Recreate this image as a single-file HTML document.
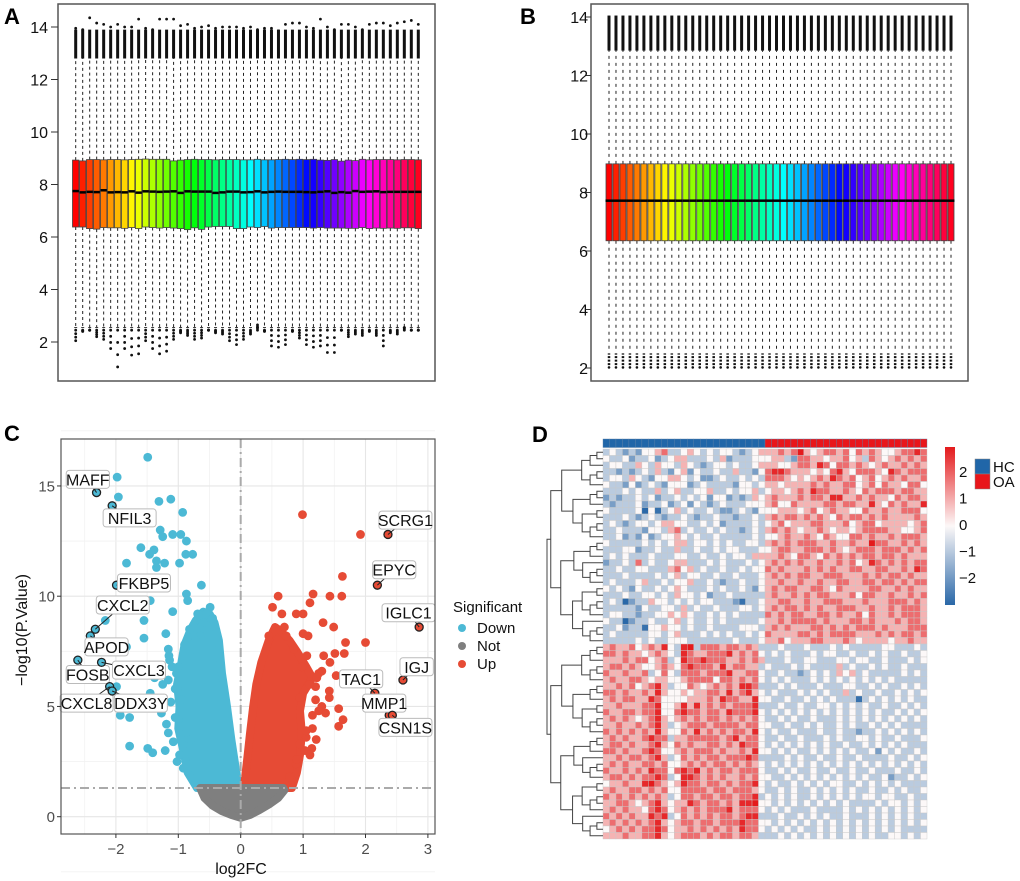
<!DOCTYPE html>
<html><head><meta charset="utf-8"><title>Figure</title>
<style>
html,body{margin:0;padding:0;background:#fff;}
svg{display:block;font-family:"Liberation Sans",Arial,sans-serif;}
</style></head>
<body>
<svg id="fig" width="1020" height="881" viewBox="0 0 1020 881" xmlns="http://www.w3.org/2000/svg">
<text x="4" y="24" font-size="22" font-weight="bold">A</text>
<text x="520" y="24" font-size="22" font-weight="bold">B</text>
<text x="4" y="441" font-size="22" font-weight="bold">C</text>
<text x="532" y="442" font-size="22" font-weight="bold">D</text>
</svg>
<script>
// ---------- DATA ----------
const nSamples = 50;
const aMedian = [7.75,7.7,7.72,7.71,7.78,7.7,7.71,7.7,7.74,7.69,7.74,7.73,7.72,7.73,7.74,7.68,7.74,7.73,7.73,7.73,7.68,7.7,7.73,7.73,7.7,7.71,7.74,7.7,7.72,7.73,7.72,7.72,7.72,7.71,7.7,7.72,7.74,7.68,7.71,7.69,7.75,7.72,7.73,7.74,7.71,7.72,7.72,7.72,7.72,7.72];
const aQ1 = [6.38,6.38,6.32,6.3,6.36,6.35,6.35,6.33,6.36,6.32,6.38,6.36,6.34,6.36,6.34,6.32,6.28,6.35,6.29,6.38,6.4,6.4,6.4,6.32,6.32,6.38,6.36,6.4,6.34,6.36,6.36,6.36,6.36,6.36,6.34,6.36,6.34,6.34,6.34,6.33,6.33,6.36,6.32,6.34,6.33,6.34,6.33,6.35,6.35,6.32];
const aQ3 = [8.93,8.9,8.95,8.95,8.94,8.95,8.95,8.94,8.95,8.96,8.97,8.96,8.96,8.96,8.9,8.93,8.95,8.96,8.95,8.95,8.94,8.95,8.95,8.95,8.94,8.94,8.96,8.94,8.94,8.95,8.96,8.95,8.96,8.95,8.96,8.93,8.92,8.95,8.89,8.93,8.91,8.96,8.94,8.95,8.95,8.95,8.94,8.95,8.95,8.94];
const aHiMax = [13.95,13.9,14.35,14.15,14.1,14.0,14.1,14.0,14.0,14.3,13.95,13.9,14.3,14.3,14.3,14.05,14.1,13.95,14.0,14.05,13.95,14.0,14.0,14.0,13.95,14.0,13.9,13.95,13.95,13.85,14.1,14.15,14.15,14.0,13.95,14.3,14.0,13.9,14.1,14.1,14.0,13.9,14.1,14.15,14.15,14.05,14.15,14.2,14.25,14.1];
const aLoMin = [2.05,2.4,2.45,2.2,2.1,1.75,1.05,1.75,1.5,1.55,2.05,1.75,1.55,1.65,2.1,2.35,2.25,2.1,2.15,2.45,2.35,2.3,2.05,1.9,2.1,2.3,2.65,2.4,1.85,1.8,1.9,2.4,2.15,1.9,1.8,1.85,1.6,1.6,2.45,2.2,2.3,2.25,2.4,2.25,1.85,2.35,2.3,2.55,2.45,2.45];
const bMedian = 7.72, bQ1 = 6.35, bQ3 = 8.98, bWhiskHi = 12.85, bWhiskLo = 2.55;

const downX = [-1.49,-1.98,-2.31,-1.96,-2.06,-1.31,-1.12,-0.93,-1.29,-1.25,-1.09,-0.96,-0.87,-1.6,-1.39,-1.46,-1.35,-0.88,-0.77,-1.83,-1.22,-0.98,-1.35,-1.99,-1.43,-1.21,-0.63,-0.87,-0.85,-1.45,-2.17,-2.33,-2.41,-1.55,-1.55,-1.09,-0.69,-0.49,-1.83,-2.61,-2.23,-2.1,-2.06,-1.99,-1.93,-1.78,-1.78,-1.49,-1.41,-1.45,-1.38,-1.16,-1.19,-1.02,-1.21,-1.16,-1.27,-1.14,-1.16,-1.2,-0.9,-0.75,-0.6,-1.0,-0.95,-0.7,-1.05,-0.8,-0.65,-0.92,-1.1,-1.05,-1.12,-1.0,-1.08,-0.98,-1.15,-1.03,-0.55,-0.45,-0.72,-0.82,-1.25,-1.3];
const downY = [16.3,15.4,14.7,14.5,14.1,14.3,14.4,13.8,13.0,12.7,12.8,12.8,12.5,12.2,12.1,11.9,11.6,11.9,11.9,11.5,11.5,11.5,11.3,10.5,10.4,10.5,10.5,10.1,9.8,9.8,8.9,8.5,8.2,8.9,8.1,9.3,9.2,9.5,7.7,7.1,7.0,5.9,5.7,5.9,4.6,4.5,3.2,3.1,2.9,5.6,6.3,6.2,4.2,2.5,3.0,3.8,4.7,7.1,7.6,8.3,7.8,8.6,8.8,6.8,5.3,7.5,4.5,3.5,8.2,2.2,6.8,5.8,5.2,4.4,3.4,2.8,7.3,6.5,9.2,9.0,8.0,8.5,6.0,5.0];
const upX = [0.99,1.92,2.36,1.63,2.19,0.6,1.16,1.43,1.62,1.11,0.51,0.66,0.89,1.0,1.32,1.49,2.86,1.68,2.0,1.33,1.51,1.66,1.43,2.6,1.53,2.15,2.38,2.43,1.57,1.64,1.57,1.36,1.21,1.14,1.03,1.11,1.42,1.42,1.22,1.06,0.95,0.89,0.81,1.0,1.08,0.45,0.73,1.25,1.3,0.98,1.15,1.05,0.85,1.2,1.1,1.2,1.15,1.05,0.95,0.9,1.3,1.25,0.78,0.7];
const upY = [13.7,12.8,12.8,10.9,10.5,10.0,10.1,10.0,10.0,9.7,9.5,9.2,9.2,9.2,8.8,8.6,8.6,7.9,7.9,7.3,7.4,7.4,7.0,6.2,6.4,5.6,4.6,4.6,4.9,4.4,4.1,4.7,3.5,3.1,3.0,2.8,5.7,5.4,6.3,7.3,5.4,2.4,1.7,8.3,8.2,8.2,8.2,6.5,5.0,6.8,4.0,3.6,7.6,5.9,6.0,5.3,4.6,3.9,3.3,2.6,6.6,4.8,1.8,8.6];
// dense cores (boundary in data units)
const downCoreX = [-0.7,-0.85,-0.92,-1.0,-0.98,-1.02,-0.95,-0.9,-0.8,-0.72,-0.6,-0.5,-0.42,-0.35,-0.3,-0.22,-0.15,-0.08,-0.03];
const downCoreY = [1.3,2.0,3.0,4.0,5.0,6.0,7.0,7.8,8.5,8.9,9.3,9.2,8.8,8.0,6.5,5.0,3.5,2.2,1.3];
const upCoreX = [0.05,0.1,0.15,0.2,0.25,0.33,0.45,0.55,0.65,0.78,0.9,1.05,1.15,1.0,0.95,0.98,0.95,0.9,0.82];
const upCoreY = [1.3,2.5,3.8,5.0,6.0,7.0,8.0,8.6,8.4,8.0,7.5,6.8,6.3,5.6,4.8,3.8,2.8,2.0,1.3];
const notCoreX = [-0.65,-0.58,-0.45,-0.3,-0.15,0.0,0.15,0.3,0.45,0.6,0.7,0.68];
const notCoreY = [1.3,0.85,0.5,0.25,0.08,-0.05,0.08,0.3,0.55,0.85,1.2,1.3];
const labelNames = ["MAFF","NFIL3","FKBP5","CXCL2","APOD","FOSB","CXCL3","CXCL8","DDX3Y","SCRG1","EPYC","IGLC1","IGJ","TAC1","MMP1","CSN1S"];
const labelPtX = [-2.31,-2.06,-1.99,-2.33,-2.41,-2.61,-2.23,-2.1,-2.06,2.36,2.19,2.86,2.6,2.15,2.38,2.43];
const labelPtY = [14.7,14.1,10.5,8.5,8.2,7.1,7.0,5.9,5.7,12.8,10.5,8.6,6.2,5.6,4.6,4.6];
const labelBoxX = [-2.45,-1.78,-1.55,-1.89,-2.15,-2.45,-1.63,-2.47,-1.6,2.64,2.46,2.69,2.82,1.93,2.3,2.64];
const labelBoxY = [15.3,13.55,10.6,9.6,7.7,6.45,6.65,5.15,5.15,13.45,11.2,9.25,6.8,6.25,5.15,4.05];
const cXTicks = [-2,-1,0,1,2,3];
const cYTicks = [0,5,10,15];

const heatRows = [
"34323244563345434344323455565685456656465654456676",
"43342334234553334352333444553266554556453654565656",
"34433543544354323443433455544566576466565456556565",
"33232343532452433433533246776555454675466654765666",
"34435432445543422343343436665454565765645645656556",
"43324234324442343333244345545555656556645646554664",
"33343433534533445334344534554565766556546566656655",
"23233434233434342442323545655565665775565655465665",
"32333423342342432343334445644655556656655754656557",
"43333404134534334322343244455545645655446556556664",
"33343234323343233433233435656656565465665656555565",
"34323443455443343423333434564555665556456645555456",
"33433324435634334343323435656545565455456666554456",
"33423242344543433433333434456556546544665655656665",
"43333343434553443434334435656566655655655866556565",
"33344233433533433434433344566556665654566656665656",
"34343334333443343343443555565466546565656656656555",
"23343634334553334343334345656565565565645765656566",
"33433443335645343343343446565556565655665566556576",
"33343333434534433433433345656566556665556565665655",
"34333453343445334323343345565565565566556656656566",
"43432433434543334343343245656655665465555665565655",
"33343344343544342334333335655656566555646655655656",
"34302335443434344333213345566556556665556555666565",
"33333243344353433433344345656656565566655655656665",
"34433233445454334343433336565665566565564655656665",
"43302334334534334343333345565666656555665655565665",
"33423314454434334333344435656555665656566656555666",
"34333334434533343434334346555566565666655565656656",
"33333434334443333333433345564555665556545555455655",
"56556456574378366656656533343334333434333334433343",
"66565545654376556667565643434333434433433434334334",
"55565664563476676665565653334334433344344334333434",
"56656544565467666575665534333434333353433434334333",
"65565563464366656667556643343323434354534333334343",
"56556654554456666466565643434333434343434343433333",
"55656456753446545656577633343433343334433434334343",
"66565565754454556657567543433343434335343343343434",
"56566557644445556576655744334334343433313434343433",
"55655566744575756565666733343343344343434334334343",
"65566566744676656657666743434343434343434343343434",
"56565456754565656656565643343433433343434343434343",
"55655656753456665666656644334334343343433434343333",
"65656565754465756565665743433433343343323343434343",
"56565567663556666656756643343343334343344343343334",
"56656556754656556656576643434343434334334343434333",
"66565567644565666565565744343433434343433424343343",
"55656656753465656656667633334343343343343333433434",
"56565566564456565665656543434343434343434343434343",
"65565657664676756566566643343433433433433433343343",
"56656566763477656565565644334343434343434334233434",
"45565578654576656656566743433434343443343434343333",
"56556656564466665665666543343433434343433433434334",
"65656565653466566566566734343433434343434434433433",
"55665456754557656656577844343434343434333343443434",
"56565546764565656667566643434333433334343434343434",
"65656557673465656566567733343343434334333434343433",
"56565656754566566566676644343434343434343434343434",
"45656566764556565656576643434343343434343434343333",
"55565566754566656566566533343434343434343433443434"
];
const heatGroups = ["HC","OA"];
const nHC = 25;
const cbTicks = [2,1,0,-1,-2];
const aTicks = [2,4,6,8,10,12,14];
const bTicks = [2,4,6,8,10,12,14];

// ---------- HELPERS ----------
const svg = document.getElementById('fig');
const NS = 'http://www.w3.org/2000/svg';
function mk(tag, attrs, parent){const e=document.createElementNS(NS,tag);for(const k in attrs)e.setAttribute(k,attrs[k]);(parent||svg).appendChild(e);return e;}
function rainbow(i,n){return 'hsl('+(i/n*360)+',100%,50%)';}

// ---------- PANEL A ----------
(function(){
 const g = mk('g',{});
 
 
 const yA = v => 342 - (v-2)*26.25;
 const xA = i => 75.7 + i*(418.3-75.7)/(nSamples-1);
 const frame = mk('rect',{x:58,y:4,width:377,height:377,fill:'none',stroke:'#555','stroke-width':1.5},g);
 
 
 aTicks.forEach(t=>{
  const tk = mk('line',{x1:51,x2:58,y1:yA(t),y2:yA(t),stroke:'#333'},g);
  
  
  const tl = mk('text',{x:48,y:yA(t)+6,'font-size':16,'text-anchor':'end',fill:'#111'},g);
  
  
  tl.textContent = t;
 });
 for(let i=0;i<nSamples;i++){
  const x = xA(i);
  const wh = mk('line',{x1:x,x2:x,y1:yA(aQ3[i]),y2:yA(12.85),stroke:'#222','stroke-dasharray':'3,3','stroke-width':1},g);
  
  
  const wl = mk('line',{x1:x,x2:x,y1:yA(aQ1[i]),y2:yA(2.55),stroke:'#222','stroke-dasharray':'3,3','stroke-width':1},g);
  
  
  const ob = mk('line',{x1:x,x2:x,y1:yA(12.8),y2:yA(13.9),stroke:'#111','stroke-width':3},g);
  
  
  const od = mk('circle',{cx:x,cy:yA(aHiMax[i]),r:1.4,fill:'#111'},g);
  
  
  const lc = mk('line',{x1:x-1.5,x2:x+1.5,y1:yA(2.55),y2:yA(2.55),stroke:'#333'},g);
  
  
  const steps = 3;
  for(let k=0;k<=steps;k++){
   const v = 2.45 - (2.45-aLoMin[i])*k/steps;
   const lo = mk('circle',{cx:x,cy:yA(v),r:1.4,fill:'#111'},g);
   
   
  }
  const bx = mk('rect',{x:x-3.2,y:yA(aQ3[i]),width:6.4,height:yA(aQ1[i])-yA(aQ3[i]),fill:rainbow(i,nSamples),stroke:'#444','stroke-width':0.8},g);
  
  
  const md = mk('line',{x1:x-3.2,x2:x+3.2,y1:yA(aMedian[i]),y2:yA(aMedian[i]),stroke:'#000','stroke-width':2.5},g);
  
  
 }
})();

// ---------- PANEL B ----------
(function(){
 const g = mk('g',{});
 
 
 const yB = v => 368 - (v-2)*29.25;
 const xB = i => 609 + i*(951-609)/(nSamples-1);
 const frame = mk('rect',{x:591,y:4,width:377,height:377,fill:'none',stroke:'#555','stroke-width':1.5},g);
 
 
 bTicks.forEach(t=>{
  const tk = mk('line',{x1:585,x2:591,y1:yB(t),y2:yB(t),stroke:'#333'},g);
  
  
  const tl = mk('text',{x:588,y:yB(t)+6,'font-size':16,'text-anchor':'end',fill:'#111'},g);
  
  
  tl.textContent = t;
 });
 for(let i=0;i<nSamples;i++){
  const x = xB(i);
  const wh = mk('line',{x1:x,x2:x,y1:yB(bQ3),y2:yB(bWhiskHi),stroke:'#222','stroke-dasharray':'3,4'},g);
  
  
  const wl = mk('line',{x1:x,x2:x,y1:yB(bQ1),y2:yB(bWhiskLo),stroke:'#222','stroke-dasharray':'3,4'},g);
  
  
  const ob = mk('line',{x1:x,x2:x,y1:yB(12.85),y2:yB(14.05),stroke:'#111','stroke-width':3},g);
  
  
  const ol = mk('line',{x1:x,x2:x,y1:yB(2.1),y2:yB(2.5),stroke:'#111','stroke-width':2.5,'stroke-dasharray':'2,1.5'},g);
  
  
  const od = mk('circle',{cx:x,cy:yB(2.02),r:1.3,fill:'#111'},g);
  
  
  const bx = mk('rect',{x:x-3,y:yB(bQ3),width:6,height:yB(bQ1)-yB(bQ3),fill:rainbow(i,nSamples),stroke:'#444','stroke-width':0.8},g);
  
  
  const md = mk('line',{x1:x-3.5,x2:x+3.5,y1:yB(bMedian),y2:yB(bMedian),stroke:'#000','stroke-width':2.5},g);
  
  
 }
})();

// ---------- PANEL C ----------
(function(){
 const g = mk('g',{});
 
 
 const L=61,R=435,T=439,B=834;
 const xC = v => 240.7 + v*62.4;
 const yC = v => 816.7 - v*22.05;
 for(let v=-2.5;v<=3;v+=0.5){
  const major = Math.abs(v-Math.round(v))<1e-6;
  const gl = mk('line',{x1:xC(v),x2:xC(v),y1:T,y2:B,stroke:major?'#e6e6e6':'#f2f2f2','stroke-width':major?1.1:0.8},g);
  
  
 }
 for(let v=-2.5;v<=17.5;v+=2.5){
  const major = v%5===0;
  const gl = mk('line',{x1:L,x2:R,y1:yC(v),y2:yC(v),stroke:major?'#e6e6e6':'#f2f2f2','stroke-width':major?1.1:0.8},g);
  
  
 }
 function core(xs,ys,col,name){
  const p = mk('path',{d:xs.map((x,i)=>(i?'L':'M')+xC(x)+','+yC(ys[i])).join('')+'Z',fill:col,stroke:col,'stroke-width':8,'stroke-linejoin':'round'},g);
  
  
 }
 core(downCoreX,downCoreY,'#4cb9d5','down-core-cloud');
 core(upCoreX,upCoreY,'#e64b35','up-core-cloud');
 core(notCoreX,notCoreY,'#7f7f7f','not-core-cloud');
 downX.forEach((x,i)=>{
  const c = mk('circle',{cx:xC(x),cy:yC(downY[i]),r:4.4,fill:'#4cb9d5'},g);
  
  
 });
 upX.forEach((x,i)=>{
  const c = mk('circle',{cx:xC(x),cy:yC(upY[i]),r:4.4,fill:'#e64b35'},g);
  
  
 });
 const vl = mk('line',{x1:xC(0),x2:xC(0),y1:T,y2:B,stroke:'#aaa','stroke-width':2,'stroke-dasharray':'9,4,2,4'},g);
 
 
 const hl = mk('line',{x1:L,x2:R,y1:yC(1.3),y2:yC(1.3),stroke:'#aaa','stroke-width':2,'stroke-dasharray':'9,4,2,4'},g);
 
 
 labelNames.forEach((nm,i)=>{
  const up = labelPtX[i]>0;
  const px=xC(labelPtX[i]), py=yC(labelPtY[i]);
  const ring = mk('circle',{cx:px,cy:py,r:4,fill:up?'#e64b35':'#4cb9d5',stroke:'#222','stroke-width':1.3},g);
  
  
  const inner = mk('circle',{cx:px,cy:py,r:1.8,fill:up?'#e64b35':'#4cb9d5'},g);
  
  
  const bx=xC(labelBoxX[i]), by=yC(labelBoxY[i]);
  const w = nm.length*9.8+4;
  const ln = mk('line',{x1:px,y1:py,x2:bx,y2:by,stroke:'#222','stroke-width':1},g);
  
  
  const r = mk('rect',{x:bx-w/2,y:by-9,width:w,height:18,rx:3,fill:'#fff',stroke:'#bbb','stroke-width':1},g);
  
  
  const t = mk('text',{x:bx,y:by+6,'font-size':16,'text-anchor':'middle',fill:'#111'},g);
  
  
  t.textContent = nm;
 });
 const fr = mk('rect',{x:L,y:T,width:R-L,height:B-T,fill:'none',stroke:'#555','stroke-width':1.2},g);
 
 
 cXTicks.forEach(v=>{
  const tk = mk('line',{x1:xC(v),x2:xC(v),y1:B,y2:B+4,stroke:'#333'},g);
  
  
  const tl = mk('text',{x:xC(v),y:B+20,'font-size':15,'text-anchor':'middle',fill:'#4d4d4d'},g);
  
  
  tl.textContent = v<0?'\u2212'+(-v):v;
 });
 cYTicks.forEach(v=>{
  const tk = mk('line',{x1:L-4,x2:L,y1:yC(v),y2:yC(v),stroke:'#333'},g);
  
  
  const tl = mk('text',{x:L-6,y:yC(v)+5.5,'font-size':15,'text-anchor':'end',fill:'#4d4d4d'},g);
  
  
  tl.textContent = v;
 });
 const xt = mk('text',{x:241,y:874,'font-size':16,'text-anchor':'middle',fill:'#111'},g);
 
 
 xt.textContent = 'log2FC';
 const yt = mk('text',{x:0,y:0,'font-size':16,'text-anchor':'middle',fill:'#111',transform:'translate(27,630) rotate(-90)'},g);
 
 
 yt.textContent = '\u2212log10(P.Value)';
 const lt = mk('text',{x:453,y:612,'font-size':15,fill:'#111'},g);
 
 
 lt.textContent = 'Significant';
 [['Down','#4cb9d5'],['Not','#7f7f7f'],['Up','#e64b35']].forEach((e,i)=>{
  const c = mk('circle',{cx:462,cy:628+i*18,r:4,fill:e[1]},g);
  
  
  const t = mk('text',{x:477,y:633+i*18,'font-size':15,fill:'#111'},g);
  
  
  t.textContent = e[0];
 });
})();

// ---------- PANEL D ----------
(function(){
 const g = mk('g',{});
 
 
 const X0=603, Y0=449, cw=324/nSamples, nR=heatRows.length, ch=390/nR;
 const blue=[42,104,168], red=[228,26,28], white=[252,248,248];
 function col(v){
  const t=Math.min(1,Math.abs(v)/2.4), c=v<0?blue:red;
  return 'rgb('+white.map((w,k)=>Math.round(w+(c[k]-w)*t)).join(',')+')';
 }
 for(let j=0;j<nSamples;j++){
  const a = mk('rect',{x:X0+j*cw,y:439,width:cw,height:8.5,fill:j<nHC?'#2066a8':'#e8161b',stroke:'#5a7fa6','stroke-width':0.4},g);
  
  
 }
 heatRows.forEach((row,r)=>{
  for(let j=0;j<nSamples;j++){
   const v = (parseInt(row[j])-4)*0.75;
   const c = mk('rect',{x:X0+j*cw,y:Y0+r*ch,width:cw,height:ch,fill:col(v),stroke:'#c8c8c8','stroke-width':0.4},g);
   
   
  }
 });
 // dendrogram
 function tree(lo,hi){
  const n=hi-lo+1;
  if(n===1) return {y:Y0+(lo+0.5)*ch,h:0};
  const split = lo + Math.max(0,Math.floor(n*0.45)-1 + (n%3===0?1:0));
  const a=tree(lo,split), b=tree(split+1,hi);
  const h = Math.max(a.h,b.h)+ (n>=30?10:(3+Math.sqrt(n)*2.2));
  const xh = 603-h, xa=603-a.h, xb=603-b.h;
  const p = mk('path',{d:'M'+xa+','+a.y+'H'+xh+'V'+b.y+'H'+xb,fill:'none',stroke:'#444','stroke-width':1},g);
  
  
  return {y:(a.y+b.y)/2,h:h};
 }
 const top=tree(0,29), bot=tree(30,59);
 const rootH=56;
 const rp = mk('path',{d:'M'+(603-top.h)+','+top.y+'H'+(603-rootH)+'V'+bot.y+'H'+(603-bot.h),fill:'none',stroke:'#444','stroke-width':1},g);
 
 
 // colorbar
 const defs = mk('defs',{},g);
 const lg = mk('linearGradient',{id:'cbg',x1:0,y1:1,x2:0,y2:0},defs);
 [[0,-2.6],[0.5,0],[1,2.6]].forEach(s=>{mk('stop',{offset:s[0],'stop-color':col(s[1])},lg);});
 const cb = mk('rect',{x:945,y:447,width:10,height:158,fill:'url(#cbg)'},g);
 
 
 cbTicks.forEach(v=>{
  const t = mk('text',{x:959,y:525-v*26.5+5,'font-size':15,fill:'#111'},g);
  
  
  t.textContent = v<0?'\u2212'+(-v):v;
 });
 heatGroups.forEach((nm,i)=>{
  const b = mk('rect',{x:975,y:459+i*15,width:15,height:15,fill:i?'#e8161b':'#2066a8',stroke:'#888','stroke-width':0.5},g);
  
  
  const t = mk('text',{x:993,y:472+i*15,'font-size':15,fill:'#111'},g);
  
  
  t.textContent = nm;
 });
})();
</script>
</body></html>
